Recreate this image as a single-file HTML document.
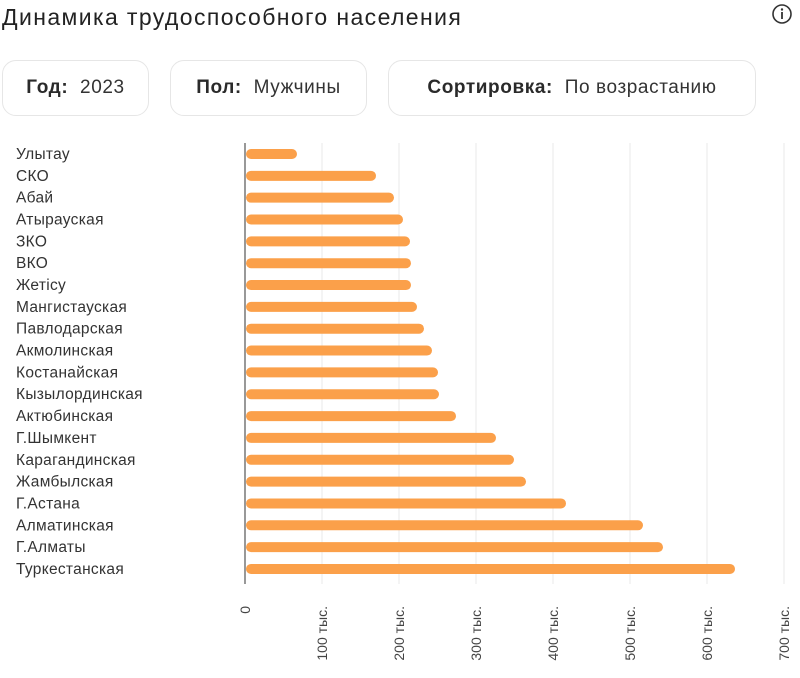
<!DOCTYPE html>
<html><head><meta charset="utf-8"><style>
body{margin:0;width:800px;height:678px;background:#fff;font-family:"Liberation Sans",sans-serif;overflow:hidden;position:relative}
.t{position:absolute;left:2px;top:4px;font-size:23px;color:#222;letter-spacing:1.4px}
.pill{position:absolute;top:60px;height:56px;border:1px solid #e6e6e6;border-radius:14px;box-sizing:border-box;font-size:19px;color:#333;line-height:54px;text-align:center;letter-spacing:0.6px}
.pill b{color:#2a2a2a}
</style></head><body>
<div class="t">Динамика трудоспособного населения</div>
<svg style="position:absolute;left:771px;top:3px" width="22" height="22"><circle cx="11" cy="11" r="9" fill="none" stroke="#333" stroke-width="1.6"/><circle cx="11" cy="6.5" r="1.2" fill="#333"/><rect x="10.1" y="9" width="1.8" height="7" fill="#333"/></svg>
<div class="pill" style="left:2px;width:147px"><b>Год:</b>&nbsp; 2023</div>
<div class="pill" style="left:170px;width:197px"><b>Пол:</b>&nbsp; Мужчины</div>
<div class="pill" style="left:388px;width:368px"><b>Сортировка:</b>&nbsp; По возрастанию</div>
<svg style="position:absolute;left:0;top:0" width="800" height="678" font-family="Liberation Sans, sans-serif">
<g stroke="#e8e8e8" stroke-width="1">
<line x1="322" y1="143" x2="322" y2="584"/><line x1="399" y1="143" x2="399" y2="584"/><line x1="476" y1="143" x2="476" y2="584"/><line x1="553" y1="143" x2="553" y2="584"/><line x1="630" y1="143" x2="630" y2="584"/><line x1="707" y1="143" x2="707" y2="584"/><line x1="784" y1="143" x2="784" y2="584"/>
</g>
<line x1="245" y1="143" x2="245" y2="584" stroke="#555" stroke-width="1.2"/>
<g id="bars" stroke="#fba04a" stroke-width="10" stroke-linecap="round"></g>
<g id="labs" font-size="15.5" fill="#333"></g>
<g font-size="14" fill="#444">
<text transform="translate(250,606) rotate(-90)" text-anchor="end">0</text>
<text transform="translate(327,606) rotate(-90)" text-anchor="end">100 тыс.</text>
<text transform="translate(404,606) rotate(-90)" text-anchor="end">200 тыс.</text>
<text transform="translate(481,606) rotate(-90)" text-anchor="end">300 тыс.</text>
<text transform="translate(558,606) rotate(-90)" text-anchor="end">400 тыс.</text>
<text transform="translate(635,606) rotate(-90)" text-anchor="end">500 тыс.</text>
<text transform="translate(712,606) rotate(-90)" text-anchor="end">600 тыс.</text>
<text transform="translate(789,606) rotate(-90)" text-anchor="end">700 тыс.</text>
</g>
</svg>
<script>
var d=[["Улытау",297],["СКО",376],["Абай",394],["Атырауская",403],["ЗКО",410],["ВКО",411],["Жетісу",411],["Мангистауская",417],["Павлодарская",424],["Акмолинская",432],["Костанайская",438],["Кызылординская",439],["Актюбинская",456],["Г.Шымкент",496],["Карагандинская",514],["Жамбылская",526],["Г.Астана",566],["Алматинская",643],["Г.Алматы",663],["Туркестанская",735]];
var ns="http://www.w3.org/2000/svg",b=document.getElementById("bars"),l=document.getElementById("labs");
d.forEach(function(r,i){var y=154+i*21.84;
var ln=document.createElementNS(ns,"line");ln.setAttribute("x1",251);ln.setAttribute("x2",r[1]-5);ln.setAttribute("y1",y);ln.setAttribute("y2",y);b.appendChild(ln);
var t=document.createElementNS(ns,"text");t.setAttribute("x",16);t.setAttribute("y",y+5);t.setAttribute("letter-spacing","0.3");t.textContent=r[0];l.appendChild(t);});
</script>
</body></html>
